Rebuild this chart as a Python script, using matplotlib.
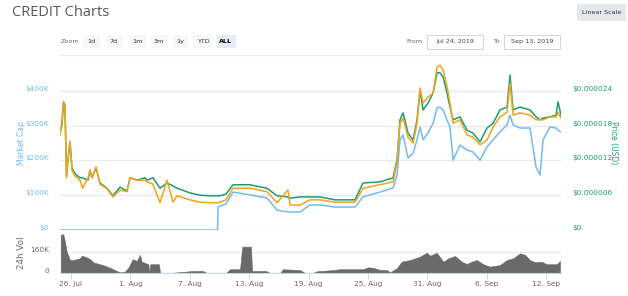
import matplotlib
matplotlib.use("Agg")
import matplotlib.pyplot as plt
import matplotlib.dates as mdates
import matplotlib.transforms as mtransforms
from matplotlib.patches import Rectangle
import pandas as pd
import numpy as np

# ---------------- data (days since 2019-07-24 00:00) ----------------
t_main = [0.89, 1.09, 1.24, 1.39, 1.55, 1.70, 1.90, 2.10, 2.40, 2.91, 3.18, 3.72, 3.92, 4.12,
          4.53, 4.93, 5.64, 6.24, 6.95, 7.66, 7.96, 8.67, 9.47, 9.68, 10.28, 10.99, 11.70,
          12.30, 12.71, 14.02, 15.03, 16.04, 16.75, 16.80, 16.85, 17.05, 17.66, 18.36,
          20.08, 21.80, 22.81, 23.92, 24.12, 25.13, 26.14, 27.15, 28.67, 30.69, 31.49,
          33.21, 34.53, 34.93, 35.23, 35.54, 36.04, 36.55, 36.95, 37.25, 37.56, 38.06,
          38.57, 38.97, 39.27, 39.58, 39.98, 40.28, 40.59, 41.29, 42.00, 42.61, 43.31,
          44.02, 44.63, 45.33, 46.04, 46.34, 46.65, 47.35, 48.36, 48.97, 49.37, 49.68,
          50.38, 50.99, 51.19, 51.49]
# Price (USD), in millionths of a dollar
price_usd_e6 = [16.7, 18.1, 22.1, 21.4, 9.3, 12.1, 15.2, 10.7, 9.7, 9.0, 9.0, 8.6, 10.3, 9.0,
                10.7, 8.1, 7.2, 5.9, 7.4, 6.7, 9.0, 8.6, 9.0, 8.6, 9.0, 7.2, 8.1,
                7.6, 7.2, 6.4, 6.0, 5.9, 5.9, 5.9, 5.9, 5.9, 6.2, 7.8,
                7.8, 7.2, 5.9, 5.7, 5.5, 5.7, 5.7, 5.7, 5.2, 5.2, 8.1,
                8.3, 9.0, 12.1, 19.0, 20.2, 16.7, 15.5, 19.0, 24.1, 20.7, 21.9,
                23.6, 27.1, 27.1, 26.4, 23.6, 21.2, 19.0, 19.5, 17.2, 16.7, 15.2,
                17.6, 18.4, 20.7, 21.2, 26.7, 20.7, 21.2, 20.7, 19.5, 19.0, 19.3,
                19.5, 19.8, 22.1, 19.8]
# Price (BTC), in units of 1e-10 BTC
price_btc_e10 = [16.4, 19.0, 22.1, 21.6, 9.0, 12.4, 15.3, 10.3, 9.3, 8.6, 7.2, 9.0, 10.3, 9.0,
                 10.9, 7.9, 7.1, 5.7, 6.9, 6.6, 9.0, 8.6, 8.6, 8.3, 7.9, 4.7, 8.6,
                 4.8, 5.9, 5.2, 4.8, 4.7, 4.7, 4.7, 4.7, 4.8, 5.2, 7.2,
                 7.2, 6.6, 4.7, 6.9, 4.3, 4.3, 5.2, 5.2, 4.8, 4.8, 7.2,
                 7.8, 8.3, 11.7, 18.3, 19.3, 16.0, 15.0, 18.4, 24.5, 21.9, 22.9,
                 23.6, 28.1, 28.4, 27.6, 24.7, 21.9, 18.4, 19.0, 16.4, 16.0, 14.7,
                 15.5, 17.8, 19.5, 20.3, 25.3, 19.8, 20.2, 19.8, 19.0, 19.0, 19.0,
                 19.5, 19.5, 20.3, 19.3]
# Market cap, thousands of USD
market_cap_k = [0, 0, 0, 0, 0, 0, 0, 0, 0, 0, 0, 0, 0, 0,
                0, 0, 0, 0, 0, 0, 0, 0, 0, 0, 0, 0, 0,
                0, 0, 0, 0, 0, 0, 0, 66, 69, 75, 109,
                101, 92, 57, 52, 52, 52, 72, 72, 66, 66, 95,
                109, 121, 158, 259, 273, 207, 221, 259, 296, 259, 279,
                307, 351, 353, 345, 316, 296, 201, 244, 230, 224, 201,
                239, 259, 282, 302, 330, 302, 293, 293, 181, 158, 259,
                296, 293, 287, 282]

t_vol = [0.96, 1.22, 1.39, 1.57, 1.90, 2.23, 2.91, 3.08, 3.41, 3.92, 4.25, 4.93, 5.43,
         5.94, 6.44, 6.95, 7.45, 7.79, 8.23, 8.64, 8.97, 9.14, 9.81, 9.91, 10.01,
         10.89, 10.99, 12.30, 14.32, 15.33, 15.74, 17.66, 18.06, 19.07, 19.30, 20.18,
         20.28, 21.70, 22.10, 23.11, 23.41, 25.13, 25.64, 26.44, 26.85, 28.16, 29.17,
         31.49, 32.00, 32.51, 33.21, 33.92, 34.22, 34.90, 35.40, 36.24, 37.25, 37.93,
         38.26, 38.94, 39.61, 40.11, 40.79, 41.46, 41.97, 42.47, 42.98, 43.65, 44.32,
         45.33, 46.01, 46.68, 47.35, 47.86, 48.36, 48.87, 49.54, 50.04, 51.06, 51.39]
volume_k = [284, 289, 234, 160, 98, 98, 111, 130, 123, 106, 81, 67, 56,
            41, 24, 7, 12, 41, 104, 91, 136, 86, 67, 2, 67,
            67, 2, 4, 17, 17, 2, 2, 30, 30, 197, 197,
            17, 17, 2, 2, 30, 24, 2, 2, 15, 22, 30,
            30, 44, 41, 24, 24, 7, 37, 86, 98, 123, 152,
            130, 152, 86, 111, 128, 86, 69, 86, 98, 67, 49,
            61, 98, 111, 148, 136, 98, 81, 86, 67, 67, 91]

mcap_ticks_k = [0, 100, 200, 300, 400]
mcap_tick_labels = ["$0", "$100K", "$200K", "$300K", "$400K"]
price_ticks_e6 = [0, 6, 12, 18, 24]
price_tick_labels = ["$0", "$0.000006", "$0.000012", "$0.000018", "$0.000024"]
vol_ticks_k = [0, 160]
vol_tick_labels = ["0", "160K"]
date_ticks = ["2019-07-26", "2019-08-01", "2019-08-07", "2019-08-13", "2019-08-19",
              "2019-08-25", "2019-08-31", "2019-09-06", "2019-09-12"]
zoom_buttons = ["1d", "7d", "1m", "3m", "1y", "YTD", "ALL"]

# ---------------- styling ----------------
BLUE = "#72bbef"
GREEN = "#1a9f72"
ORANGE = "#f7a21b"
GREY_TXT = "#666666"
GRID = "#e9e9e9"

W, H = 628, 296
fig = plt.figure(figsize=(W / 100, H / 100), dpi=100)
FONT = "DejaVu Sans"
plt.rcParams["font.family"] = FONT


def fx(x):
    return x / W


def fy(y):
    return 1 - y / H


base = pd.Timestamp("2019-07-24")
tm = base + pd.to_timedelta(np.array(t_main), unit="D")
tv = base + pd.to_timedelta(np.array(t_vol), unit="D")
x0 = base + pd.Timedelta(days=0.89)
x1 = base + pd.Timedelta(days=51.49)

L, R = 60, 561
TOP, MID, BOT = 60, 230, 273.3
ax = fig.add_axes([fx(L), fy(MID), (R - L) / W, (MID - TOP) / H])
axv = fig.add_axes([fx(L), fy(BOT), (R - L) / W, (BOT - MID) / H])
ax2 = ax.twinx()
ax3 = ax.twinx()

px_per_100k = 34.8
ax.set_ylim(0, (MID - TOP) / px_per_100k * 100)
ax2.set_ylim(0, (MID - TOP) / 5.8)
ax3.set_ylim(0, (MID - TOP) / 5.8)

for a in (ax, ax2, ax3, axv):
    for s in a.spines.values():
        s.set_visible(False)
    a.set_xlim(x0, x1)
    a.patch.set_alpha(0)

ax.set_yticks(mcap_ticks_k)
ax.set_yticklabels(mcap_tick_labels)
ax.grid(axis="y", color=GRID, lw=0.9)
ax.set_axisbelow(True)
ax.tick_params(axis="y", length=0, pad=8, labelsize=5.3, labelcolor=BLUE)
ax.tick_params(axis="x", bottom=False, labelbottom=False)

ax2.set_yticks(price_ticks_e6)
ax2.set_yticklabels(price_tick_labels)
ax2.tick_params(axis="y", length=0, pad=8, labelsize=5.3, labelcolor=GREEN)
ax3.set_yticks([])
ax3.tick_params(axis="y", right=False, labelright=False)

ax.plot(tm, market_cap_k, color=BLUE, lw=1.1, zorder=3)
ax2.plot(tm, price_usd_e6, color=GREEN, lw=1.1, zorder=3)
ax3.plot(tm, price_btc_e10, color=ORANGE, lw=1.1, zorder=3)

off = mtransforms.ScaledTranslation(0, 2.5 / 100, fig.dpi_scale_trans)
for lbl in ax.get_yticklabels() + ax2.get_yticklabels():
    lbl.set_transform(lbl.get_transform() + off)

# volume
axv.set_ylim(0, 320)
axv.set_yticks(vol_ticks_k)
axv.set_yticklabels(vol_tick_labels)
axv.grid(axis="y", color=GRID, lw=0.9)
axv.set_axisbelow(True)
axv.fill_between(tv, volume_k, 0, color="#6a6a6a", lw=0.4, edgecolor="#6a6a6a", zorder=2)
axv.tick_params(axis="y", length=0, pad=8, labelsize=5.3, labelcolor=GREY_TXT)
for lbl in axv.get_yticklabels():
    lbl.set_transform(lbl.get_transform() + off)
axv.spines["bottom"].set_visible(True)
axv.spines["bottom"].set_color("#ccd6eb")
axv.spines["bottom"].set_linewidth(0.8)
axv.set_xticks([pd.Timestamp(d) for d in date_ticks])
axv.xaxis.set_major_formatter(mdates.DateFormatter("%-d. %b"))
axv.tick_params(axis="x", length=4, width=0.7, color="#ccd6eb", labelsize=5.3,
                labelcolor=GREY_TXT, pad=1.5)

# axis titles
fig.text(fx(21), fy(143), "Market Cap", rotation=90, color=BLUE, fontsize=5.5,
         ha="center", va="center")
fig.text(fx(21), fy(253), "24h Vol", rotation=90, color=GREY_TXT, fontsize=6.3,
         ha="center", va="center")
fig.text(fx(614), fy(143), "Price (USD)", rotation=270, color=GREEN, fontsize=5.5,
         ha="center", va="center")

# header
fig.text(fx(12), fy(12), "CREDIT Charts", fontsize=10.5, color="#5a5a5a",
         ha="left", va="center", family="Open Sans")

fig.patches.append(Rectangle((fx(577), fy(21)), 49 / W, 17 / H, transform=fig.transFigure,
                             facecolor="#e4e7eb", edgecolor="none"))
fig.text(fx(601.5), fy(12.5), "Linear Scale", fontsize=4.6, color="#333333",
         ha="center", va="center")

fig.text(fx(70), fy(41.5), "Zoom", fontsize=4.6, color=GREY_TXT, ha="center", va="center")
btn_x = [91, 114, 137, 159, 180, 203, 226]
btn_w = [17, 17, 17, 17, 15, 20, 19]
for lab, cx, bw in zip(zoom_buttons, btn_x, btn_w):
    sel = lab == "ALL"
    fig.patches.append(Rectangle((fx(cx - bw / 2), fy(48)), bw / W, 13 / H,
                                 transform=fig.transFigure,
                                 facecolor="#e6ebf5" if sel else "#f7f7f7", edgecolor="none"))
    fig.text(fx(cx), fy(41.5), lab, fontsize=4.6, color="#000000" if sel else "#333333",
             ha="center", va="center", fontweight="bold" if sel else "normal")

fig.lines.append(plt.Line2D([fx(60), fx(560)], [fy(55), fy(55)], transform=fig.transFigure,
                            color="#ececec", lw=0.8))

fig.text(fx(414), fy(41.5), "From", fontsize=4.6, color=GREY_TXT, ha="center", va="center")
fig.patches.append(Rectangle((fx(427), fy(49)), 56 / W, 14 / H, transform=fig.transFigure,
                             facecolor="white", edgecolor="#cccccc", lw=0.6))
fig.text(fx(455), fy(41.5), "Jul 24, 2019", fontsize=4.6, color="#444444",
         ha="center", va="center")
fig.text(fx(496), fy(41.5), "To", fontsize=4.6, color=GREY_TXT, ha="center", va="center")
fig.patches.append(Rectangle((fx(504), fy(49)), 56 / W, 14 / H, transform=fig.transFigure,
                             facecolor="white", edgecolor="#cccccc", lw=0.6))
fig.text(fx(532), fy(41.5), "Sep 13, 2019", fontsize=4.6, color="#444444",
         ha="center", va="center")

fig.savefig("out.png", dpi=100)
